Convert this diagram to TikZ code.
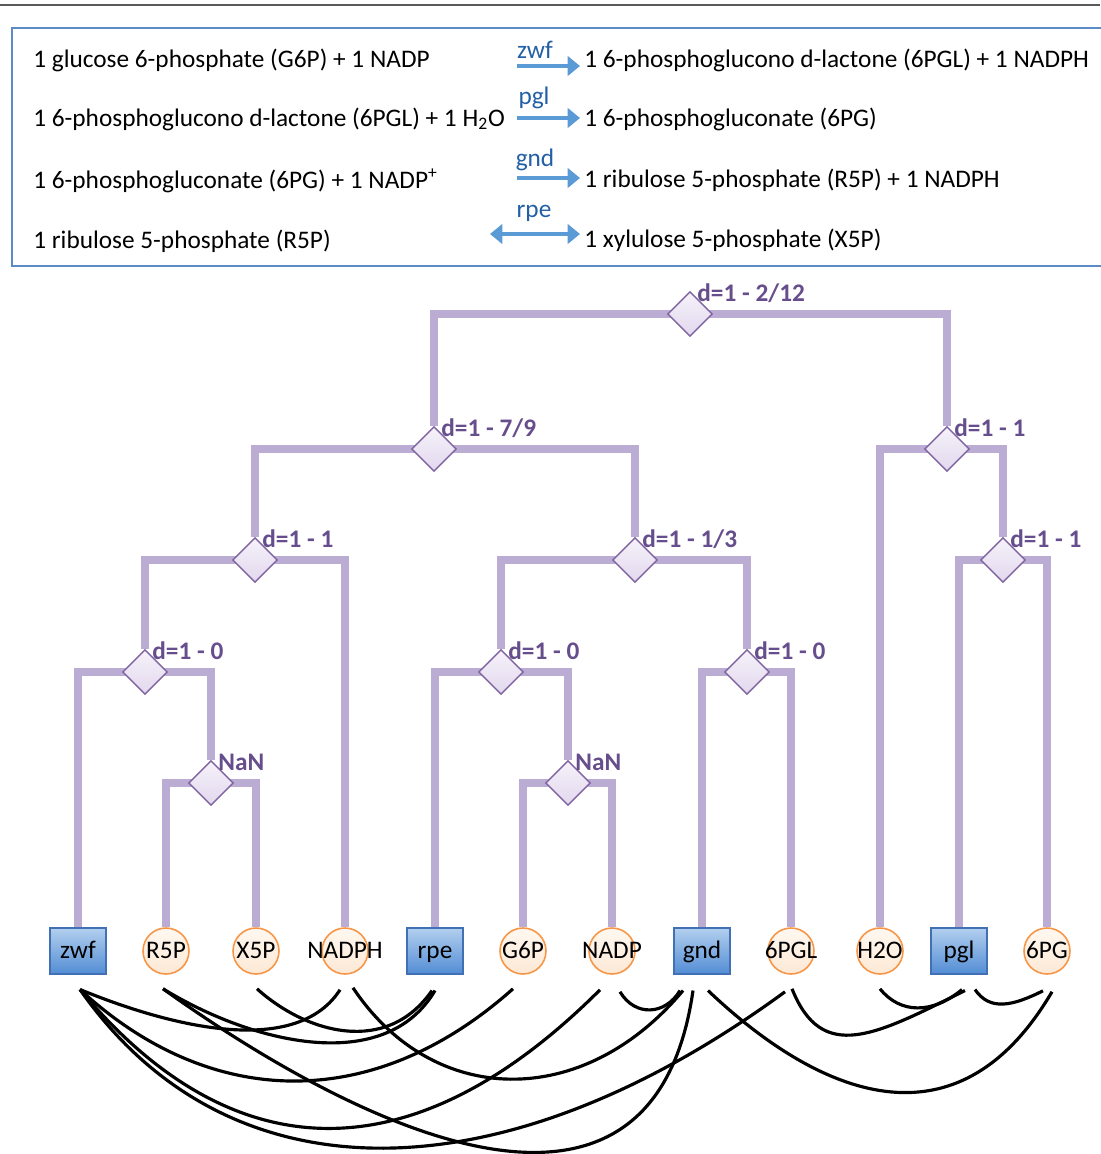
\documentclass[tikz,border=0pt]{standalone}
\usepackage{fontspec}
\setmainfont{Carlito}
\usetikzlibrary{shapes.geometric,arrows.meta,backgrounds,calc}

\definecolor{hdrblue}{RGB}{91,140,200}
\definecolor{arrowblue}{RGB}{91,155,213}
\definecolor{lblblue}{RGB}{35,95,165}
\definecolor{branchcol}{RGB}{187,172,211}
\definecolor{dborder}{RGB}{128,100,162}
\definecolor{dtop}{RGB}{246,242,250}
\definecolor{dbot}{RGB}{226,216,238}
\definecolor{dtext}{RGB}{102,78,140}
\definecolor{enztop}{RGB}{178,207,238}
\definecolor{enzbot}{RGB}{83,141,213}
\definecolor{enzborder}{RGB}{65,113,180}
\definecolor{mettop}{RGB}{255,248,240}
\definecolor{metfill}{RGB}{253,233,214}
\definecolor{metborder}{RGB}{247,150,70}

\tikzset{
  enzyme/.style={rectangle, draw=enzborder, line width=0.6pt, top color=enztop, bottom color=enzbot,
    minimum width=1.12cm, minimum height=0.92cm, inner sep=0pt, text height=9pt, text depth=0pt},
  metab/.style={circle, draw=metborder, line width=0.9pt, top color=mettop, bottom color=metfill,
    minimum size=0.92cm, inner sep=0pt, text height=9pt, text depth=0pt},
  split/.style={diamond, draw=dborder, line width=0.8pt, top color=dtop, bottom color=dbot,
    minimum size=0.9cm, inner sep=0pt},
  dlab/.style={anchor=west, inner sep=0pt, text=dtext, font=\fontsize{14.4}{17}\selectfont\bfseries},
  branch/.style={line width=4pt, draw=branchcol},
  rxnarc/.style={line width=1.8pt, black},
  rxnarrow/.style={line width=2.8pt, draw=arrowblue, -{Triangle[length=7pt,width=11pt]}},
  enzlab/.style={anchor=base, inner sep=0pt, text=lblblue},
  eqtxt/.style={anchor=base west, inner sep=0pt},
}

\begin{document}
\begin{tikzpicture}[x=0.02cm, y=-0.02cm, font=\fontsize{14.4}{17}\selectfont]
  \useasboundingbox (0,0) rectangle (1100,1154);

  %% frame of the reactions
  \draw[line width=0.9pt, gray!70!black] (0,5) -- (1100,5);
  \draw[line width=1.1pt, hdrblue] (12,28) rectangle (1106,266);

  %% reactions
  \node[eqtxt] (l1) at (33,67) {1 glucose 6-phosphate (G6P) + 1 NADP};
  \node[eqtxt] (l2) at (33,126) {1 6-phosphoglucono d-lactone (6PGL) + 1 H\textsubscript{2}O};
  \node[eqtxt] (l3) at (33,188) {1 6-phosphogluconate (6PG) + 1 NADP\textsuperscript{+}};
  \node[eqtxt] (l4) at (33,248) {1 ribulose 5-phosphate (R5P)};
  \node[eqtxt] (r1) at (584,67) {1 6-phosphoglucono d-lactone (6PGL) + 1 NADPH};
  \node[eqtxt] (r2) at (584,126) {1 6-phosphogluconate (6PG)};
  \node[eqtxt] (r3) at (584,187) {1 ribulose 5-phosphate (R5P) + 1 NADPH};
  \node[eqtxt] (r4) at (584,247) {1 xylulose 5-phosphate (X5P)};

  %% arrows
  \foreach \i/\yy/\xs in {1/66/517, 2/118/517, 3/178/517, 4/234/490} {
    \coordinate (s\i) at (\xs,\yy);
    \coordinate (e\i) at (580,\yy);
  }
  \draw[rxnarrow] (s1) -- (e1);
  \draw[rxnarrow] (s2) -- (e2);
  \draw[rxnarrow] (s3) -- (e3);
  \draw[rxnarrow, {Triangle[length=7pt,width=11pt]}-{Triangle[length=7pt,width=11pt]}] (s4) -- (e4);
  \node[enzlab] (tzwf) at (535,58) {zwf};
  \node[enzlab] (tpgl) at (534,104) {pgl};
  \node[enzlab] (tgnd) at (535,166) {gnd};
  \node[enzlab] (trpe) at (534,217) {rpe};

  %% leaves
  \node[enzyme] (zwf) at (78,951) {zwf};
  \node[metab] (r5p) at (166,951) {\makebox[0pt]{R5P}};
  \node[metab] (x5p) at (256,951) {\makebox[0pt]{X5P}};
  \node[metab] (nadph) at (345,951) {\makebox[0pt]{NADPH}};
  \node[enzyme] (rpe) at (435,951) {rpe};
  \node[metab] (g6p) at (523,951) {\makebox[0pt]{G6P}};
  \node[metab] (nadp) at (612,951) {\makebox[0pt]{NADP}};
  \node[enzyme] (gnd) at (702,951) {gnd};
  \node[metab] (pgl6) at (791,951) {\makebox[0pt]{6PGL}};
  \node[metab] (h2o) at (880,951) {\makebox[0pt]{H2O}};
  \node[enzyme] (pgl) at (959,951) {pgl};
  \node[metab] (pg6) at (1047,951) {\makebox[0pt]{6PG}};

  %% splits
  \node[split] (root) at (690,314) {};
  \node[split] (n79) at (434,449) {};
  \node[split] (nR1) at (947,449) {};
  \node[split] (nL1) at (255,560) {};
  \node[split] (n13) at (635,560) {};
  \node[split] (nR2) at (1003,560) {};
  \node[split] (nA) at (145,672) {};
  \node[split] (nB) at (501,672) {};
  \node[split] (nC) at (747,672) {};
  \node[split] (nan1) at (211,783) {};
  \node[split] (nan2) at (568,783) {};
  \foreach \n/\t in {root/{d=1 - 2/12}, n79/{d=1 - 7/9}, nR1/{d=1 - 1}, nL1/{d=1 - 1},
      n13/{d=1 - 1/3}, nR2/{d=1 - 1}, nA/{d=1 - 0}, nB/{d=1 - 0}, nC/{d=1 - 0},
      nan1/NaN, nan2/NaN}
    \node[dlab] (l\n) at ($(\n)+(7,-21)$) {\t};

  %% tree
  \begin{scope}[on background layer]
    \draw[branch] (n79) |- (root.center) -| (nR1);
    \draw[branch] (nL1) |- (n79.center) -| (n13);
    \draw[branch] (h2o) |- (nR1.center) -| (nR2);
    \draw[branch] (pgl) |- (nR2.center) -| (pg6);
    \draw[branch] (nA) |- (nL1.center) -| (nadph);
    \draw[branch] (zwf) |- (nA.center) -| (nan1);
    \draw[branch] (r5p) |- (nan1.center) -| (x5p);
    \draw[branch] (nB) |- (n13.center) -| (nC);
    \draw[branch] (rpe) |- (nB.center) -| (nan2);
    \draw[branch] (g6p) |- (nan2.center) -| (nadp);
    \draw[branch] (gnd) |- (nC.center) -| (pgl6);
  \end{scope}

  %% reaction arcs
  \draw[rxnarc] ($(zwf.south)+(2,15)$) .. controls +(110,45) and +(-40,62) .. ($(nadph.south)+(-5,15)$);
  \draw[rxnarc] ($(zwf.south)+(2,15)$) .. controls +(130,120) and +(-140,125) .. ($(g6p.south)+(-10,14)$);
  \draw[rxnarc] ($(zwf.south)+(2,15)$) .. controls +(150,180) and +(-190,190) .. ($(nadp.south)+(-12,15)$);
  \draw[rxnarc] ($(zwf.south)+(2,15)$) .. controls +(150,215) and +(-280,205) .. ($(pgl6.south)+(-6,17)$);
  \draw[rxnarc] ($(r5p.south)+(-3,14)$) .. controls +(90,55) and +(-50,85) .. ($(rpe.south)+(0,16)$);
  \draw[rxnarc] ($(x5p.south)+(1,14)$) .. controls +(50,45) and +(-45,65) .. ($(rpe.south)+(-3,16)$);
  \draw[rxnarc] ($(r5p.south)+(-3,14)$) .. controls +(200,143) and +(-40,280) .. ($(gnd.south)+(-9,16)$);
  \draw[rxnarc] ($(nadph.south)+(8,13)$) .. controls +(80,120) and +(-100,120) .. ($(gnd.south)+(-19,16)$);
  \draw[rxnarc] ($(nadp.south)+(8,17)$) .. controls +(15,25) and +(-15,25) .. ($(gnd.south)+(-22,16)$);
  \draw[rxnarc] ($(gnd.south)+(6,16)$) .. controls +(100,95) and +(-100,170) .. ($(pg6.south)+(5,17)$);
  \draw[rxnarc] ($(pgl6.south)+(1,14)$) .. controls +(30,75) and +(-90,45) .. ($(pgl.south)+(6,16)$);
  \draw[rxnarc] ($(h2o.south)+(0,14)$) .. controls +(20,25) and +(-30,25) .. ($(pgl.south)+(3,15)$);
  \draw[rxnarc] ($(pgl.south)+(16,15)$) .. controls +(15,22) and +(-30,15) .. ($(pg6.south)+(-4,16)$);
\end{tikzpicture}
\end{document}
